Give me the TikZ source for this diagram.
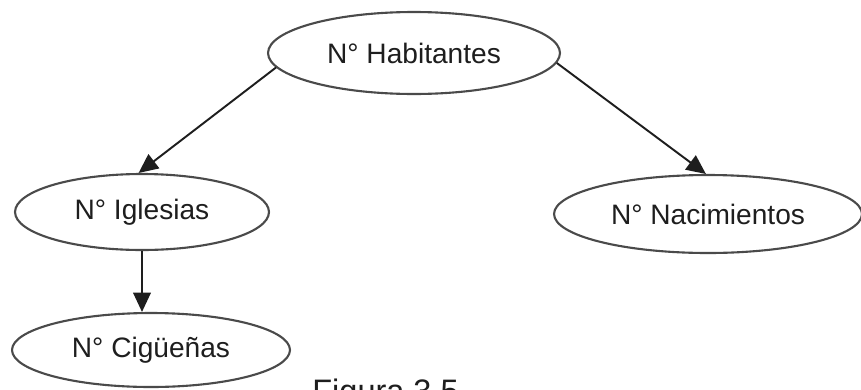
\documentclass[tikz,border=0pt]{standalone}
\usepackage{fontspec}
\setmainfont{Liberation Sans}
\usetikzlibrary{shapes.geometric,arrows.meta}
\definecolor{ink}{HTML}{1E1E1E}
\definecolor{rim}{HTML}{4A4A4A}
\begin{document}
\begin{tikzpicture}[x=0.02cm,y=-0.02cm,
  bubble/.style={ellipse,draw=rim,line width=1.2pt,inner sep=0pt,
    text=ink,font=\fontsize{16pt}{19pt}\selectfont},
  link/.style={draw=ink,line width=1.1pt,
    -{Triangle[length=11pt,width=10pt]}}]
  \useasboundingbox (0,0) rectangle (861,389);
  \clip (0,0) rectangle (861,389);
  \fill[white] (0,0) rectangle (861,389);

  \node[bubble,minimum width=5.84cm,minimum height=1.64cm] (hab) at (414,53) {N° Habitantes};
  \node[bubble,minimum width=5.08cm,minimum height=1.52cm] (igl) at (142,212) {N° Iglesias};
  \node[bubble,minimum width=5.56cm,minimum height=1.48cm] (cig) at (151,350) {N° Cigüeñas};
  \node[bubble,minimum width=6.16cm,minimum height=1.56cm] (nac) at (708,214) {N° Nacimientos};

  \draw[link] (hab.186) -- (igl.95);
  \draw[link] (hab.-4) -- (nac.93);
  \draw[link] (igl.south) -- (igl.south |- cig.north);

  \node[anchor=base west,inner sep=0pt,text=ink,
    font=\fontsize{18.5pt}{22pt}\selectfont] (cap) at (312,402) {Figura 3.5};
\end{tikzpicture}
\end{document}
